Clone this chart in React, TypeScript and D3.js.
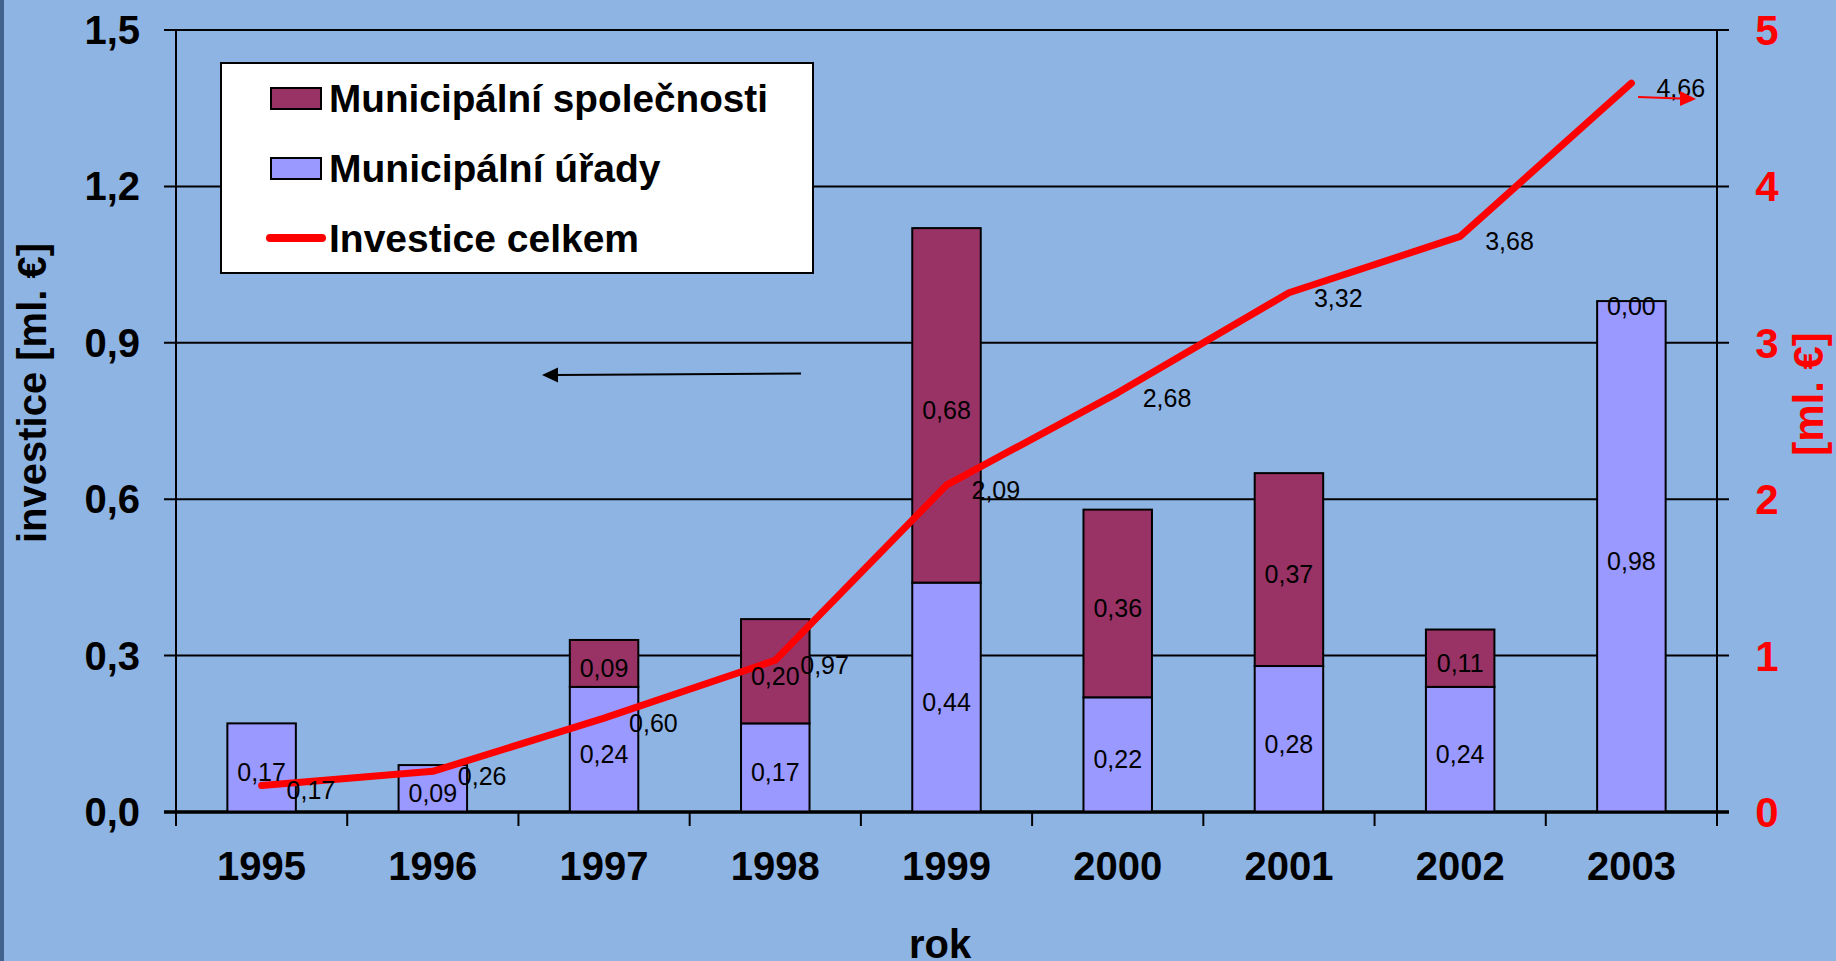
import React from 'react';
import * as d3 from 'd3';

// chart data
const years = ['1995', '1996', '1997', '1998', '1999', '2000', '2001', '2002', '2003'];
const uradyValues = [0.17, 0.09, 0.24, 0.17, 0.44, 0.22, 0.28, 0.24, 0.98];
const spolecnostiValues = [null, null, 0.09, 0.2, 0.68, 0.36, 0.37, 0.11, 0.0];
const celkemValues = [0.17, 0.26, 0.6, 0.97, 2.09, 2.68, 3.32, 3.68, 4.66];
const leftTicks = [0, 0.3, 0.6, 0.9, 1.2, 1.5];
const rightTicks = [0, 1, 2, 3, 4, 5];
const legendLabels = ['Municipální společnosti', 'Municipální úřady', 'Investice celkem'];

const W = 1836, H = 961;
const left = 176, right = 1717, top = 30, bottom = 812;
const bg = '#8eb4e3';
const colSpol = '#993366';
const colUrad = '#9999ff';
const font = '"Liberation Sans", Arial, sans-serif';

const cz = d3.formatLocale({ decimal: ',', thousands: ' ', grouping: [3], currency: ['', ' €'] });
const f2 = cz.format('.2f');
const f1 = cz.format('.1f');

export default function App() {
  const x = d3.scaleBand<string>().domain(years).range([left, right]).paddingInner(0.6).paddingOuter(0.3);
  const yL = d3.scaleLinear().domain([0, 1.5]).range([bottom, top]);
  const yR = d3.scaleLinear().domain([0, 5]).range([bottom, top]);
  const step = x.step();
  const bw = x.bandwidth();
  const cx = (d: string) => (x(d) as number) + bw / 2;

  const line = d3.line<number>()
    .x((_, i) => cx(years[i]))
    .y(d => yR(d));

  // category boundaries for x ticks
  const bounds = d3.range(years.length + 1).map(i => left + i * step);

  return (
    <svg width={W} height={H} style={{ position: 'absolute', left: 0, top: 0, display: 'block' }}
      fontFamily={font}>
      <rect x={0} y={0} width={W} height={H} fill={bg} />
      <rect x={0} y={0} width={4} height={H} fill="#44628e" />

      {/* gridlines + side ticks */}
      {leftTicks.map(t => (
        <line key={'g' + t} x1={left - 12} x2={right + 12} y1={yL(t)} y2={yL(t)}
          stroke="#000" strokeWidth={t === 0 ? 3 : 2} />
      ))}

      {/* bars */}
      {years.map((yr, i) => {
        const u = uradyValues[i];
        const s = spolecnostiValues[i];
        return (
          <g key={'b' + yr}>
            <rect x={x(yr)} y={yL(u)} width={bw} height={yL(0) - yL(u)} fill={colUrad} stroke="#000" strokeWidth={2} />
            {s !== null && s > 0 && (
              <rect x={x(yr)} y={yL(u + s)} width={bw} height={yL(u) - yL(u + s)} fill={colSpol} stroke="#000" strokeWidth={2} />
            )}
          </g>
        );
      })}

      {/* axes */}
      <line x1={left} x2={left} y1={top} y2={bottom + 14} stroke="#000" strokeWidth={2} />
      <line x1={right} x2={right} y1={top} y2={bottom + 14} stroke="#000" strokeWidth={2} />
      <line x1={left - 12} x2={right + 12} y1={bottom} y2={bottom} stroke="#000" strokeWidth={3} />
      {bounds.map((b, i) => (
        <line key={'xt' + i} x1={b} x2={b} y1={bottom} y2={bottom + 14} stroke="#000" strokeWidth={2} />
      ))}

      {/* total line */}
      <path d={line(celkemValues) || ''} fill="none" stroke="#ff0000" strokeWidth={7}
        strokeLinecap="round" strokeLinejoin="round" />

      {/* bar labels */}
      {years.map((yr, i) => {
        const u = uradyValues[i];
        const s = spolecnostiValues[i];
        return (
          <g key={'bl' + yr} fontSize={25} textAnchor="middle" fill="#000">
            <text x={cx(yr)} y={yL(u / 2) + 13.5}>{f2(u)}</text>
            {s !== null && <text x={cx(yr)} y={yL(u + s / 2) + 13.5}>{f2(s)}</text>}
          </g>
        );
      })}

      {/* line labels */}
      {celkemValues.map((v, i) => (
        <text key={'ll' + i} x={cx(years[i]) + 25} y={yR(v) + 14} fontSize={25} fill="#000">{f2(v)}</text>
      ))}

      {/* tick labels */}
      {leftTicks.map(t => (
        <text key={'lt' + t} x={140} y={yL(t) + 14} textAnchor="end" fontSize={40} fontWeight="bold">{f1(t)}</text>
      ))}
      {rightTicks.map(t => (
        <text key={'rt' + t} x={1767} y={yR(t) + 15} textAnchor="middle" fontSize={42} fontWeight="bold" fill="#ff0000">{t}</text>
      ))}
      {years.map(yr => (
        <text key={'xl' + yr} x={cx(yr)} y={880} textAnchor="middle" fontSize={40} fontWeight="bold">{yr}</text>
      ))}

      {/* axis titles */}
      <text transform="translate(46,393) rotate(-90)" textAnchor="middle" fontSize={40} fontWeight="bold">investice [ml. €]</text>
      <text transform="translate(1823,394) rotate(-90)" textAnchor="middle" fontSize={42} fontWeight="bold" fill="#ff0000">[ml. €]</text>
      <text x={940} y={958} textAnchor="middle" fontSize={40} fontWeight="bold">rok</text>

      {/* legend */}
      <rect x={221} y={63} width={592} height={210} fill="#fff" stroke="#000" strokeWidth={2} />
      <rect x={271} y={88} width={50} height={21} fill={colSpol} stroke="#000" strokeWidth={2} />
      <rect x={271} y={158} width={50} height={21} fill={colUrad} stroke="#000" strokeWidth={2} />
      <line x1={270} x2={322} y1={238} y2={238} stroke="#ff0000" strokeWidth={8} strokeLinecap="round" />
      {legendLabels.map((l, i) => (
        <text key={l} x={329} y={112 + i * 70} fontSize={39} fontWeight="bold"
          textLength={i === 0 ? 439 : undefined} lengthAdjust="spacingAndGlyphs">{l}</text>
      ))}

      {/* annotation arrows */}
      <line x1={801} y1={373.5} x2={556} y2={375} stroke="#000" strokeWidth={2} />
      <path d="M542,375 L558,367.5 L558,382.5 z" fill="#000" />
      <line x1={1638} y1={97} x2={1680} y2={98.5} stroke="#ff0000" strokeWidth={2} />
      <path d="M1680,91 L1696,99 L1680,106 z" fill="#ff0000" />
    </svg>
  );
}
